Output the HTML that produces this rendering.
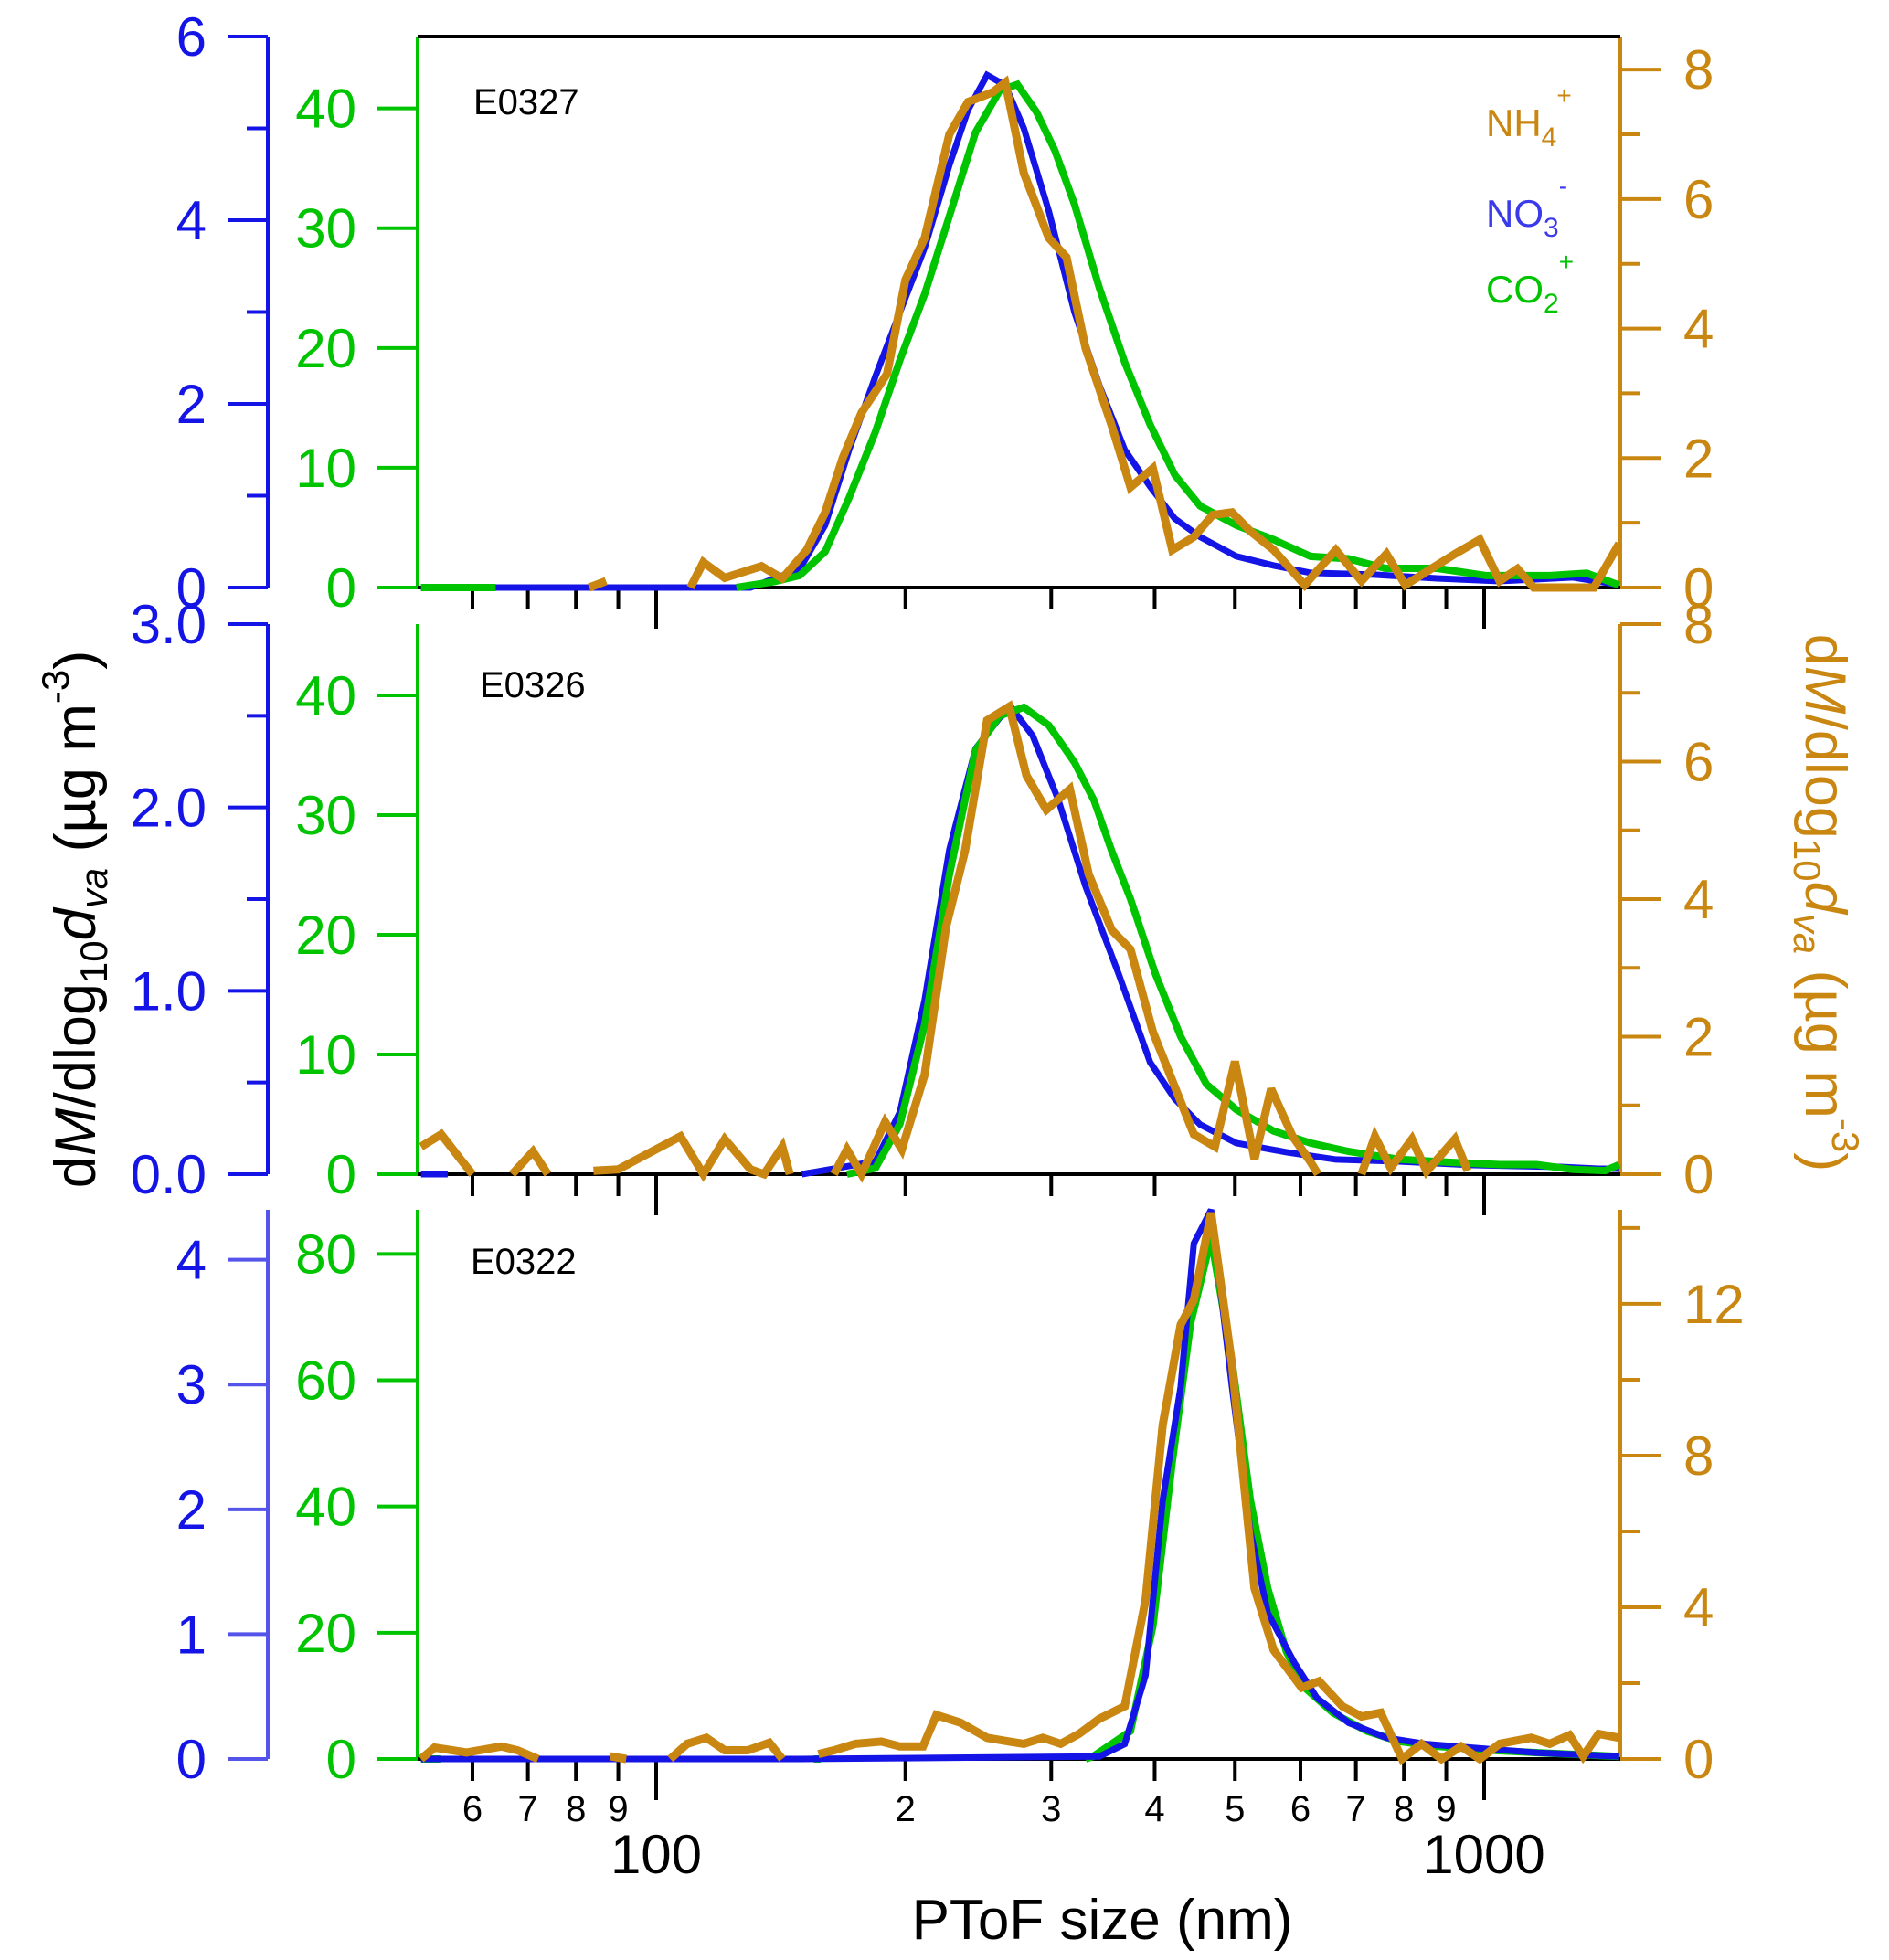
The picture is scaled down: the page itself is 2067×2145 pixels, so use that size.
<!DOCTYPE html>
<html><head><meta charset="utf-8"><style>
html,body{margin:0;padding:0;background:#fff}
svg{display:block;font-family:"Liberation Sans",sans-serif}
</style></head><body>
<svg id="chart" width="2067" height="2145" viewBox="0 0 2067 2145" xmlns="http://www.w3.org/2000/svg">
<g id="layer"></g>
</svg>
<script>
// ---- data (size in nm, values in ug/m3) ----
const panelNames = ["E0327","E0326","E0322"];
// Panel 1 E0327
const p1BlueX = [52,56,60,100,130,149,160,171,184,197,211,226,238,251,264,278,298,320,343,368,395,423,454,502,557,617,736,877,1044,1280,1456];
const p1BlueY = [0,0,0,0,0,0.2,0.68,1.5,2.3,3.0,3.7,4.6,5.2,5.58,5.47,5.0,4.1,3.0,2.2,1.5,1.1,0.75,0.55,0.34,0.24,0.16,0.14,0.1,0.07,0.11,0.03];
const p1GreenX = [52,64,null,125,139,149,160,171,184,197,211,226,243,260,273,288,303,320,343,368,395,423,454,502,557,617,686,760,877,1006,1200,1330,1456];
const p1GreenY = [0,0,null,0,0.5,1,3,7.5,13,19,24.5,31,38,41.5,42,39.7,36.5,32,25,18.8,13.6,9.4,6.8,5.2,4,2.6,2.4,1.6,1.6,1,1,1.2,0.2];
const p1OrangeX = [83,87,null,110,114,121,134,142,152,160,168,177,190,200,211,226,238,255,264,278,298,313,330,355,374,398,420,446,470,496,522,557,607,662,711,762,803,922,988,1044,1097,1148,1357,1456];
const p1OrangeY = [0,0.1,null,0,0.39,0.15,0.33,0.14,0.58,1.16,2.0,2.7,3.3,4.75,5.4,7.0,7.5,7.65,7.8,6.4,5.4,5.1,3.7,2.5,1.55,1.84,0.58,0.78,1.12,1.16,0.87,0.58,0.04,0.58,0.1,0.52,0.04,0.52,0.74,0.1,0.29,0,0,0.68];
// Panel 2 E0326
const p2BlueX = [52,56,null,150,184,197,211,226,243,260,269,285,306,330,362,395,423,454,502,577,662,788,969,1235,1375,1456];
const p2BlueY = [0,0,null,0,0.07,0.34,0.95,1.77,2.32,2.49,2.54,2.39,2.04,1.57,1.09,0.61,0.41,0.27,0.17,0.12,0.08,0.07,0.05,0.04,0.03,0.03];
const p2GreenX = [170,184,197,211,226,243,260,278,298,320,338,355,374,401,430,462,502,557,617,686,788,904,1044,1157,1280,1400,1456];
const p2GreenY = [0,0.5,4.2,12.5,25,35.4,38.3,39,37.5,34.4,31.2,27,23,16.7,11.5,7.5,5.4,3.6,2.6,1.9,1.25,1,0.8,0.8,0.4,0.3,0.8];
const p2OrangeX = [52,55,58,60,null,67,71,74,null,84,90,107,114,121,130,135,142,145,null,164,170,177,189,198,211,224,236,251,267,280,296,316,333,355,374,398,423,446,473,500,528,553,587,617,630,null,711,738,771,818,852,922,955];
const p2OrangeY = [0.4,0.58,0.22,0,null,0,0.33,0,null,0.05,0.07,0.55,0,0.51,0.07,0,0.4,0,null,0,0.36,0,0.76,0.36,1.45,3.6,4.7,6.6,6.8,5.8,5.3,5.6,4.36,3.55,3.27,2.07,1.27,0.58,0.4,1.64,0.22,1.24,0.55,0.18,0,null,0,0.55,0.09,0.51,0.04,0.51,0.05];
// Panel 3 E0322
const p3BlueX = [52,150,343,368,390,409,430,446,468,496,522,548,590,628,686,762,850,969,1160,1456];
const p3BlueY = [0,0,0.02,0.12,0.67,2.07,2.98,4.13,4.4,2.98,1.82,1.17,0.77,0.49,0.29,0.17,0.12,0.09,0.05,0.02];
const p3GreenX = [52,55,null,155,158,null,330,337,374,398,420,442,468,496,522,548,577,607,657,722,788,877,1006,1160,1456];
const p3GreenY = [0,0,null,0,0,null,0,0.4,4.4,21,47,69,82.5,63,41,27,17,11.3,7.3,4.4,2.8,2,1.4,1,0.4];
const p3OrangeX = [52,54,59,65,68,72,null,88,92,null,104,109,115,121,129,137,142,null,157,164,174,187,197,210,218,233,251,267,278,293,308,324,343,368,390,409,430,446,468,496,528,557,602,632,674,711,750,796,840,888,938,988,1044,1140,1200,1268,1317,1375,1456];
const p3OrangeY = [0,0.3,0.17,0.33,0.23,0,null,0.07,0,null,0,0.4,0.56,0.23,0.23,0.43,0,null,0.13,0.23,0.4,0.46,0.33,0.33,1.16,0.96,0.56,0.46,0.4,0.56,0.4,0.66,1.06,1.39,4.2,8.8,11.45,12.1,14.4,10.4,4.5,2.87,1.88,2.05,1.39,1.12,1.22,0,0.4,0,0.33,0,0.4,0.56,0.4,0.63,0.07,0.66,0.56];
// tick labels
const blueTicks = [[0,2,4,6],[0,1,2,3],[0,1,2,3,4]];
const blueTickLabels = [["0","2","4","6"],["0.0","1.0","2.0","3.0"],["0","1","2","3","4"]];
const blueMinor = [[1,3,5],[0.5,1.5,2.5],[]];
const greenTicks = [[0,10,20,30,40],[0,10,20,30,40],[0,20,40,60,80]];
const orangeTicks = [[0,2,4,6,8],[0,2,4,6,8],[0,4,8,12]];
const orangeMinor = [[1,3,5,7],[1,3,5,7],[2,6,10,14]];
const xMinorTicks = [60,70,80,90,200,300,400,500,600,700,800,900];
const xMinorLabels = ["6","7","8","9","2","3","4","5","6","7","8","9"];
const xMajorTicks = [100,1000];

// ---- layout ----
const BLUE="#1414e6", BLUE3="#5454ea", GREEN="#00c400", ORANGE="#c98610";
const X0=457, X1=1773, AXL=457, BAX=293, ORX=1773;
const panels=[
 {top:40,bot:643,bmax:6,gmax:46,omax:8.51,blue:BLUE,lx:518,ly:125},
 {top:683,bot:1285,bmax:3,gmax:45.95,omax:8,blue:BLUE,lx:525,ly:763},
 {top:1324,bot:1925,bmax:4.40,gmax:87,omax:14.48,blue:BLUE3,lx:515,ly:1394}];
const series=[
 [[p1BlueX,p1BlueY],[p1GreenX,p1GreenY],[p1OrangeX,p1OrangeY]],
 [[p2BlueX,p2BlueY],[p2GreenX,p2GreenY],[p2OrangeX,p2OrangeY]],
 [[p3BlueX,p3BlueY],[p3GreenX,p3GreenY],[p3OrangeX,p3OrangeY]]];
const xS = nm => 718 + (Math.log10(nm)-2)*906;
const NS="http://www.w3.org/2000/svg";
const layer=document.getElementById('layer');
function mk(tag,attrs,parent){const e=document.createElementNS(NS,tag);for(const k in attrs)e.setAttribute(k,attrs[k]);(parent||layer).appendChild(e);return e;}
function line(x1,y1,x2,y2,col,w,name){const e=mk('line',{x1,y1,x2,y2,stroke:col,'stroke-width':w});

return e;}
function text(x,y,s,size,col,anchor,name){const e=mk('text',{x,y,'font-size':size,fill:col,'text-anchor':anchor||'start'});e.textContent=s;

return e;}

panels.forEach((p,i)=>{
 const H=p.bot-p.top;
 const yB=v=>p.bot-v/p.bmax*H, yG=v=>p.bot-v/p.gmax*H, yO=v=>p.bot-v/p.omax*H;
 line(BAX,p.top,BAX,p.bot,p.blue,4,'blue-y-axis');
 blueTicks[i].forEach((v,j)=>{line(249,yB(v),BAX,yB(v),p.blue,4,'blue-y-tick');
  text(226,yB(v)+21,blueTickLabels[i][j],60,BLUE,'end','blue-y-tick-label');});
 blueMinor[i].forEach(v=>line(270,yB(v),BAX,yB(v),p.blue,4,'blue-y-minor-tick'));
 line(AXL,p.top,AXL,p.bot,GREEN,4,'green-y-axis');
 greenTicks[i].forEach(v=>{line(412,yG(v),AXL,yG(v),GREEN,4,'green-y-tick');
  text(390,yG(v)+21,String(v),60,GREEN,'end','green-y-tick-label');});
 line(ORX,p.top,ORX,p.bot,ORANGE,4,'orange-y-axis');
 orangeTicks[i].forEach(v=>{line(ORX,yO(v),1818,yO(v),ORANGE,4,'orange-y-tick');
  text(1842,yO(v)+21,String(v),60,ORANGE,'start','orange-y-tick-label');});
 orangeMinor[i].forEach(v=>{if(v<=p.omax)line(ORX,yO(v),1795,yO(v),ORANGE,4,'orange-y-minor-tick');});
 line(X0,p.bot,X1,p.bot,'#000',4,'x-axis-line');
 xMinorTicks.forEach((v,j)=>{line(xS(v),p.bot,xS(v),p.bot+24,'#000',4,'x-minor-tick');
  if(i===2) text(xS(v),p.bot+68,xMinorLabels[j],40,'#000','middle','x-minor-tick-label');});
 xMajorTicks.forEach(v=>{line(xS(v),p.bot,xS(v),p.bot+45,'#000',4,'x-major-tick');
  if(i===2) text(xS(v),2050,String(v),60,'#000','middle','x-major-tick-label');});
 if(i===0) line(AXL,p.top,X1,p.top,'#000',4,'top-frame-line');
 text(p.lx,p.ly,panelNames[i],40,'#000','start','panel-label');
 const cols=[[BLUE,7,yB,'no3-line'],[GREEN,8,yG,'co2-line'],[ORANGE,9,yO,'nh4-line']];
 const order = i===2 ? [1,0,2] : [0,1,2];
 order.forEach(k=>{
  const [xs,ys]=series[i][k]; let d='',pen=false;
  for(let n=0;n<xs.length;n++){ if(xs[n]===null){pen=false;continue;}
   d+=(pen?'L':'M')+xS(xs[n]).toFixed(1)+','+cols[k][2](ys[n]).toFixed(1); pen=true;}
  const e=mk('path',{d,fill:'none',stroke:cols[k][0],'stroke-width':cols[k][1],'stroke-linejoin':'miter','stroke-miterlimit':3});
  
  
 });
});
</script>
<svg style="position:absolute;left:0;top:0" width="2067" height="2145">
<text x="1206" y="2122" font-size="62" text-anchor="middle" font-family="Liberation Sans, sans-serif">PToF size (nm)</text>
<text transform="translate(104,1006) rotate(-90)" font-size="63" text-anchor="middle" font-family="Liberation Sans, sans-serif" fill="#000">d<tspan font-style="italic">M</tspan>/dlog<tspan font-size="42" dy="13">10</tspan><tspan font-style="italic" dy="-13">d</tspan><tspan font-style="italic" font-size="42" dy="13">va</tspan><tspan dy="-13"> (µg m</tspan><tspan font-size="42" dy="-29">-3</tspan><tspan dy="29">)</tspan></text>
<text transform="translate(1976,988) rotate(90)" font-size="63" text-anchor="middle" font-family="Liberation Sans, sans-serif" fill="#c98610">d<tspan font-style="italic">M</tspan>/dlog<tspan font-size="42" dy="13">10</tspan><tspan font-style="italic" dy="-13">d</tspan><tspan font-style="italic" font-size="42" dy="13">va</tspan><tspan dy="-13"> (µg m</tspan><tspan font-size="42" dy="-29">-3</tspan><tspan dy="29">)</tspan></text>
<g font-family="Liberation Sans, sans-serif" font-size="42">
<text x="1626" y="149" fill="#c98610">NH<tspan font-size="30" dy="11">4</tspan><tspan font-size="28" dy="-46">+</tspan></text>
<text x="1626" y="248" fill="#3a3aea">NO<tspan font-size="30" dy="11">3</tspan><tspan font-size="28" dy="-46">-</tspan></text>
<text x="1626" y="331" fill="#00c400">CO<tspan font-size="30" dy="11">2</tspan><tspan font-size="28" dy="-46">+</tspan></text>
</g>
</svg>
</body></html>
